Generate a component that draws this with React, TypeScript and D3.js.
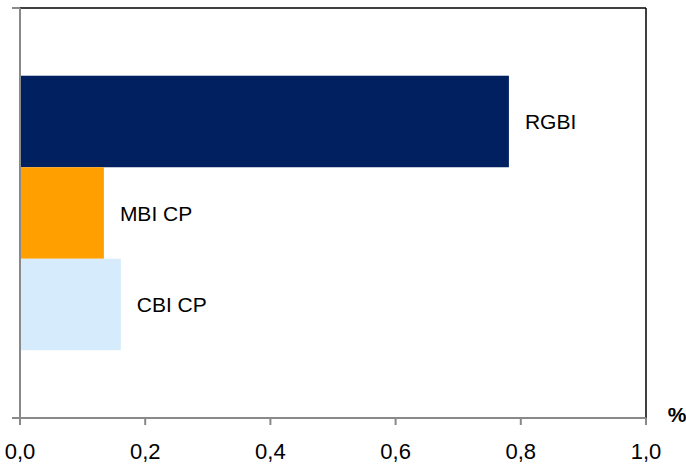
import React from 'react';
import * as d3 from 'd3';

const categories = ['RGBI', 'MBI CP', 'CBI CP'];
const values = [0.781, 0.134, 0.161];
const colors = ['#002060', '#FFA000', '#D6EBFB'];
const xTicks = [0, 0.2, 0.4, 0.6, 0.8, 1.0];

const width = 686;
const height = 466;
const margin = { top: 8, right: 40, bottom: 48, left: 20 };
const font = '"Liberation Sans", Arial, sans-serif';

const App: React.FC = () => {
  const innerW = width - margin.left - margin.right;
  const innerH = height - margin.top - margin.bottom;

  const x = d3.scaleLinear().domain([0, 1]).range([0, innerW]);
  const y = d3.scaleBand().domain(categories).range([0, innerH]).paddingInner(0).paddingOuter(0.74);

  const fmt = (v: number) => d3.format('.1f')(v).replace('.', ',');

  return (
    <svg width={width} height={height} style={{ position: 'absolute', left: 0, top: 0 }}>
      <rect width={width} height={height} fill="#fff" />
      <g transform={`translate(${margin.left},${margin.top})`}>
        {categories.map((c, i) => (
          <g key={c}>
            <rect x={0} y={y(c)!} width={x(values[i])} height={y.bandwidth()} fill={colors[i]} />
            <text
              x={x(values[i]) + 16}
              y={y(c)! + y.bandwidth() / 2}
              dy="0.36em"
              fontFamily={font}
              fontSize={21}
              fill="#000"
            >
              {c}
            </text>
          </g>
        ))}
        {/* plot border: top and right */}
        <line x1={0} x2={innerW} y1={0} y2={0} stroke="#000" strokeWidth={1.5} />
        <line x1={innerW} x2={innerW} y1={0} y2={innerH} stroke="#000" strokeWidth={1.5} />
        {/* y axis */}
        <line x1={0} x2={0} y1={0} y2={innerH} stroke="#898989" strokeWidth={2} />
        <line x1={-8} x2={0} y1={0} y2={0} stroke="#898989" strokeWidth={2} />
        <line x1={-8} x2={0} y1={innerH} y2={innerH} stroke="#898989" strokeWidth={2} />
        {/* x axis */}
        <line x1={0} x2={innerW} y1={innerH} y2={innerH} stroke="#898989" strokeWidth={2} />
        {xTicks.map(t => (
          <g key={t} transform={`translate(${x(t)},${innerH})`}>
            <line y1={0} y2={7} stroke="#898989" strokeWidth={2} />
            <text y={41} textAnchor="middle" fontFamily={font} fontSize={22} fill="#000">
              {fmt(t)}
            </text>
          </g>
        ))}
        <text x={innerW + 31} y={innerH + 4} textAnchor="middle" fontFamily={font} fontSize={21} fontWeight="bold">
          %
        </text>
      </g>
    </svg>
  );
};

export default App;
